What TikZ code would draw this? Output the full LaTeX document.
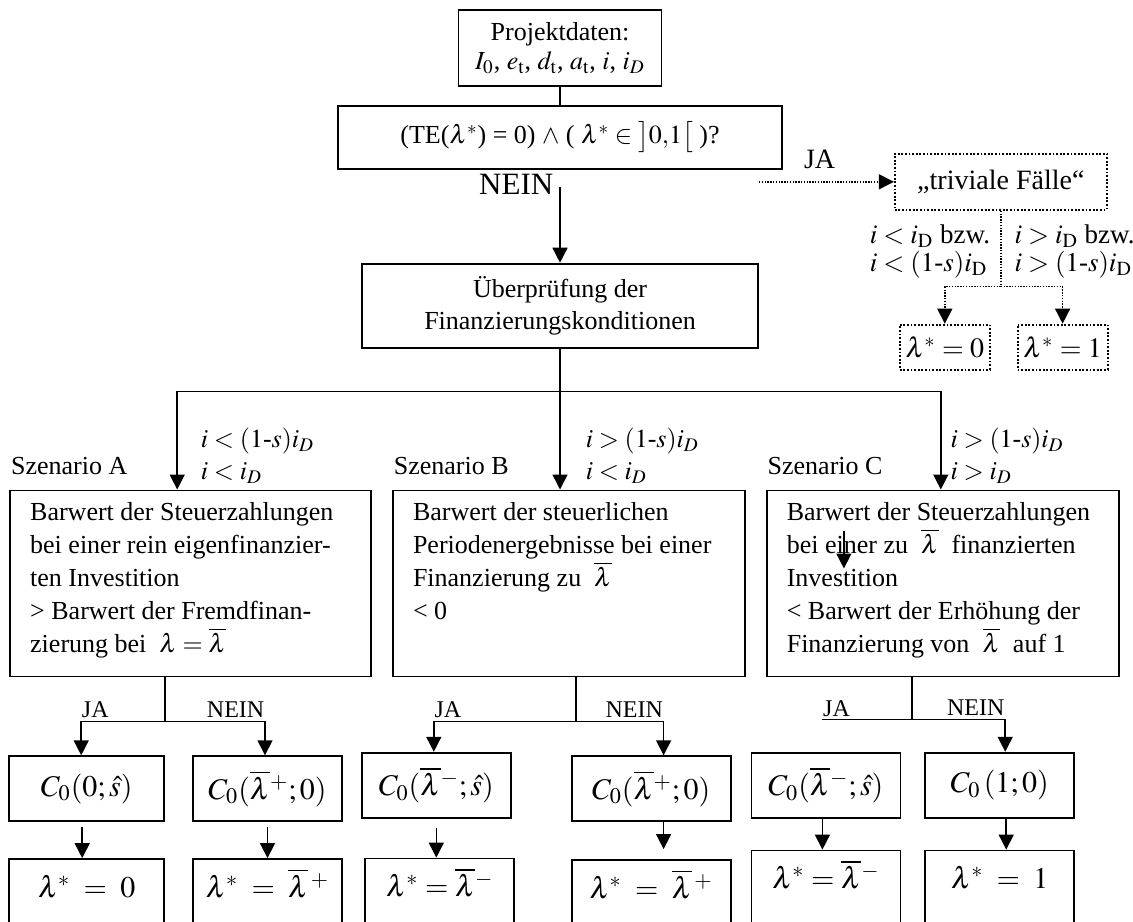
\documentclass[tikz,border=0pt]{standalone}
\usepackage{amsmath}
\usepackage{mathptmx}
\usepackage{fontspec}
\setmainfont{Liberation Serif}
\usetikzlibrary{arrows.meta, positioning, calc}

\newcommand{\scentext}[2]{\parbox[c][81pt][t]{#1}{\raggedright #2}}

\begin{document}
\begin{tikzpicture}[x=0.5pt, y=-0.5pt, line width=0.75pt,
    box/.style={draw, line width=0.9pt, align=center, inner sep=2pt,
                font=\fontsize{13}{14.5}\selectfont},
    scenbox/.style={draw, line width=0.9pt, inner xsep=10pt, inner ysep=6pt,
                font=\fontsize{13}{16.5}\selectfont},
    resbox/.style={draw, line width=0.9pt, minimum width=74.5pt, minimum height=32.5pt,
                inner sep=0pt, font=\fontsize{15}{18}\selectfont},
    lambox/.style={resbox, minimum height=40pt, text height=11pt, text depth=13pt},
    dotbox/.style={draw, line width=0.9pt, dash pattern=on 0.9pt off 0.9pt,
                inner sep=0pt, font=\fontsize{14}{16}\selectfont},
    dotline/.style={line width=0.7pt, dash pattern=on 0.7pt off 0.7pt},
    arr/.style={-{Triangle[length=7.5pt, width=7.5pt]}},
    lbl/.style={inner sep=0pt, font=\fontsize{12}{14}\selectfont},
    scenlbl/.style={inner sep=0pt, font=\fontsize{13}{16}\selectfont},
    condlbl/.style={inner sep=0pt, align=left, font=\fontsize{13}{16}\selectfont},
    trivlbl/.style={inner sep=0pt, align=left, font=\fontsize{13.5}{14}\selectfont}
  ]
  \useasboundingbox (0,0) rectangle (1133,921);
  \clip (0,0) rectangle (1133,921);

  \node[box, minimum width=101.5pt, minimum height=38pt] (proj) at (560,48)
    {Projektdaten:\\ $I_0$, $e_{\mathrm{t}}$, $d_{\mathrm{t}}$, $a_{\mathrm{t}}$, $i$, $i_D$};
  \node[box, minimum width=222pt, minimum height=31.5pt, below=9pt of proj] (cond)
    {(TE($\lambda^{*}$) = 0) $\wedge$ ( $\lambda^{*}\in\big]0{,}1\big[$ )?};
  \node[box, minimum width=198pt, minimum height=42pt, below=46.5pt of cond,
        font=\fontsize{13}{16}\selectfont] (check)
    {Überprüfung der\\ Finanzierungskonditionen};
  \node[inner sep=0pt, anchor=north east, font=\fontsize{15.5}{17}\selectfont] (nein)
    at ([xshift=-3pt, yshift=-2pt]cond.south) {NEIN};
  \draw[arr, shorten <=8.5pt] (cond.south) -- (check.north);
  \draw (proj.south) -- (cond.north);

  \node[dotbox, minimum width=106pt, minimum height=28pt, right=55.5pt of cond.east,
        yshift=-22.25pt] (triv) {„triviale Fälle“};
  \coordinate (jastart) at ([xshift=-67.5pt]triv.west);
  \draw[dotline, arr] (jastart) -- (triv.west)
    node[pos=0.45, anchor=base, yshift=6.5pt, inner sep=0pt,
         font=\fontsize{14}{16}\selectfont] (jatop) {JA};
  \node[dotbox, minimum width=45pt, minimum height=22.5pt, below=56.5pt of triv.south,
        xshift=-28pt] (lamzero) {$\lambda^{*}=0$};
  \node[dotbox, minimum width=45pt, minimum height=22.5pt, right=13pt of lamzero] (lamone)
    {$\lambda^{*}=1$};
  \coordinate (tsplit) at ([yshift=-38pt]triv.south);
  \draw[dotline] (triv.south) -- (tsplit);
  \draw[dotline, arr] (tsplit) -| (lamzero.north);
  \draw[dotline, arr] (tsplit) -| (lamone.north);
  \node[trivlbl, anchor=north east] (trivless) at ([xshift=-5pt, yshift=-6.5pt]triv.south)
    {$i < i_{\mathrm{D}}$ bzw.\\ $i < (1\mbox{-}s)i_{\mathrm{D}}$};
  \node[trivlbl, anchor=north west] (trivmore) at ([xshift=6.5pt, yshift=-6.5pt]triv.south)
    {$i > i_{\mathrm{D}}$ bzw.\\ $i > (1\mbox{-}s)i_{\mathrm{D}}$};

  \node[scenbox, below=70.5pt of check, xshift=4.5pt] (scenB)
    {\scentext{156pt}{Barwert der steuerlichen\\ Periodenergebnisse bei einer\\
      Finanzierung zu \ $\overline{\lambda}$\\ < 0}};
  \node[scenbox, left=10pt of scenB] (scenA)
    {\scentext{160.5pt}{Barwert der Steuerzahlungen\\ bei einer rein eigenfinanzier-\\
      ten Investition\\ > Barwert der Fremdfinan-\\ zierung bei \ $\lambda=\overline{\lambda}$}};
  \node[scenbox, right=10pt of scenB] (scenC)
    {\scentext{156pt}{Barwert der Steuerzahlungen\\ bei einer zu \ $\overline{\lambda}$ \ finanzierten\\
      Investition\\ < Barwert der Erhöhung der\\ Finanzierung von \ $\overline{\lambda}$ \ auf 1}};

  \coordinate (split) at ([yshift=-21.5pt]check.south);
  \coordinate (tA) at ([xshift=-6.75pt]scenA.north);
  \coordinate (tB) at (split |- scenB.north);
  \coordinate (tC) at ([xshift=-1pt]scenC.north);
  \draw (check.south) -- (split);
  \draw[arr] (split) -| (tA);
  \draw[arr] (split) -- (tB);
  \draw[arr] (split) -| (tC);

  \node[scenlbl, anchor=base west] (szA) at ([xshift=0.5pt, yshift=7.75pt]scenA.north west) {Szenario A};
  \node[scenlbl, anchor=base west] (szB) at ([xshift=0.5pt, yshift=7.75pt]scenB.north west) {Szenario B};
  \node[scenlbl, anchor=base west] (szC) at ([xshift=0.5pt, yshift=7.75pt]scenC.north west) {Szenario C};
  \node[condlbl, anchor=north west] (condA) at ([xshift=11.5pt, yshift=31pt]tA)
    {$i < (1\mbox{-}s)i_D$\\ $i < i_D$};
  \node[condlbl, anchor=north west] (condB) at ([xshift=12.5pt, yshift=31pt]tB)
    {$i > (1\mbox{-}s)i_D$\\ $i < i_D$};
  \node[condlbl, anchor=north west] (condC) at ([xshift=4.5pt, yshift=31pt]tC)
    {$i > (1\mbox{-}s)i_D$\\ $i > i_D$};

  \coordinate (strayTop) at ([xshift=39pt, yshift=-20.5pt]scenC.north west);
  \coordinate (strayEnd) at ([xshift=39pt, yshift=-39.5pt]scenC.north west);
  \draw[arr] (strayTop) -- (strayEnd);

  \node[resbox, minimum width=77.5pt, below=39pt of scenA.south west, anchor=north west,
        xshift=-0.5pt] (jaA) {$C_0(0;\hat{s})$};
  \node[resbox, right=13.5pt of jaA] (neinA) {$C_0(\overline{\lambda}{}^{+};0)$};
  \node[resbox, right=9pt of neinA, yshift=1.75pt] (jaB) {$C_0(\overline{\lambda}{}^{-};\hat{s})$};
  \node[resbox, minimum width=79.5pt, right=29.5pt of jaB, yshift=-1.75pt] (neinB)
    {$C_0(\overline{\lambda}{}^{+};0)$};
  \node[resbox, right=9.5pt of neinB, yshift=1.75pt] (jaC) {$C_0(\overline{\lambda}{}^{-};\hat{s})$};
  \node[resbox, right=11.5pt of jaC] (neinC) {$C_{0}\,(1;0)$};

  \node[lambox, minimum width=77.5pt, below=18pt of jaA] (resA) {$\lambda^{*} \;=\; 0$};
  \node[lambox, below=18pt of neinA] (resAn) {$\lambda^{*} \;=\; \overline{\lambda}{}^{\,+}$};
  \node[lambox, below=19.5pt of jaB, xshift=1.75pt] (resB) {$\lambda^{*}=\overline{\lambda}{}^{-}$};
  \node[lambox, minimum width=79.5pt, below=18.5pt of neinB] (resBn)
    {$\lambda^{*} \;=\; \overline{\lambda}{}^{\,+}$};
  \node[lambox, below=15.5pt of jaC] (resC) {$\lambda^{*}=\overline{\lambda}{}^{-}$};
  \node[lambox, below=15.5pt of neinC] (resCn) {$\lambda^{*} \;=\; 1$};

  \coordinate (sA) at ([xshift=-12.75pt, yshift=-22pt]scenA.south);
  \draw ([xshift=-12.75pt]scenA.south) -- (sA);
  \draw[arr] (sA) -| ([xshift=-2.75pt]jaA.north)
    node[lbl, pos=0.5, anchor=base west, yshift=2pt] (jaAl) {JA};
  \draw[arr] (sA) -| ([xshift=-1.25pt]neinA.north)
    node[lbl, pos=0.5, anchor=base east, yshift=2pt] (neinAl) {NEIN};

  \coordinate (sB) at ([xshift=3.5pt, yshift=-22pt]scenB.south);
  \draw ([xshift=3.5pt]scenB.south) -- (sB);
  \draw[arr] (sB) -| ([xshift=-1.25pt]jaB.north)
    node[lbl, pos=0.5, anchor=base west, yshift=2pt] (jaBl) {JA};
  \draw[arr] (sB) -| ([xshift=6.25pt]neinB.north)
    node[lbl, pos=0.5, anchor=base east, yshift=2pt] (neinBl) {NEIN};

  \coordinate (sC) at ([xshift=-15.5pt, yshift=-21pt]scenC.south);
  \coordinate (eC) at (sC -| jaC.north);
  \draw ([xshift=-15.5pt]scenC.south) -- (sC);
  \draw (sC) -- ([xshift=-1.75pt]eC)
    node[lbl, at end, anchor=base west, yshift=1.5pt] (jaCl) {JA};
  \draw[arr] (sC) -| ([xshift=2.75pt]neinC.north)
    node[lbl, pos=0.5, anchor=base east, yshift=2pt] (neinCl) {NEIN};

  \draw[arr, shorten <=2.5pt] ([xshift=-2.25pt]jaA.south) -- ([xshift=-2.25pt]resA.north);
  \draw[arr, shorten <=2.5pt] (neinA.south) -- (resAn.north);
  \draw[arr, shorten <=4.5pt] (jaB.south) -- (jaB.south |- resB.north);
  \draw[arr, shorten >=5pt] ([xshift=6.25pt]neinB.south) -- ([xshift=6.25pt]resBn.north);
  \draw[arr] ([xshift=-1.75pt]jaC.south) -- ([xshift=-1.75pt]resC.north);
  \draw[arr] ([xshift=3.25pt]neinC.south) -- ([xshift=3.25pt]resCn.north);
\end{tikzpicture}
\end{document}
